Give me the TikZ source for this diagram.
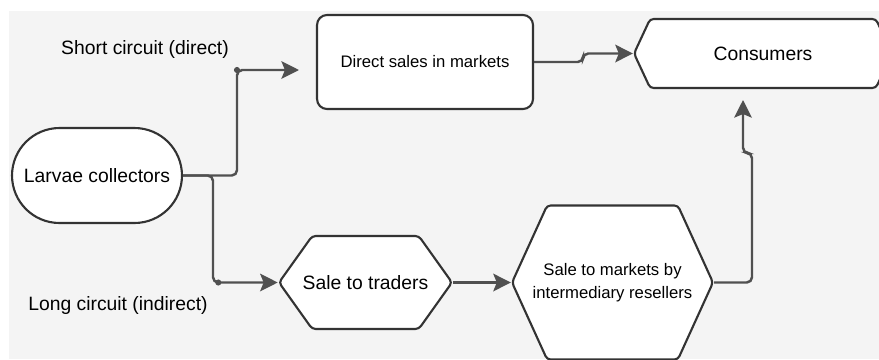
\documentclass[tikz,border=0pt]{standalone}
\usepackage{fontspec}
\setmainfont{Liberation Sans}
\usetikzlibrary{arrows.meta,shapes.symbols}
\definecolor{bggray}{HTML}{F4F4F4}
\definecolor{linegray}{HTML}{505050}
\definecolor{edgegray}{HTML}{333333}

\begin{document}
\begin{tikzpicture}[x=0.02cm, y=-0.02cm,
  box/.style={draw=edgegray, fill=white, line width=1.2pt, inner sep=0pt, align=center, font=\fontsize{11}{13}\selectfont},
  small/.style={font=\fontsize{9.5}{13}\selectfont},
  hexbox/.style={box, shape=signal, signal to=west and east, inner xsep=-0.4cm, rounded corners=2pt},
  flow/.style={draw=linegray, line width=1.4pt, rounded corners=3pt, -{Stealth[length=10pt, width=10pt, inset=2pt]}},
  label/.style={font=\fontsize{11}{13}\selectfont},
  dot/.style={circle, fill=linegray, inner sep=0pt, minimum size=3.5pt}]
  \useasboundingbox (0,0) rectangle (879,359);
  \clip (0,0) rectangle (879,359);
  \fill[bggray] (9,11) rectangle (879,359);

  % stages of the chain
  \node[box, rounded corners=0.95cm, minimum width=3.4cm, minimum height=1.9cm] (larvae) at (97,175.5) {Larvae collectors};
  \node[box, small, rounded corners=0.2cm, minimum width=4.32cm, minimum height=1.88cm] (direct) at (425,62) {Direct sales in markets};
  \node[hexbox, signal pointer angle=130, minimum width=5.16cm, minimum height=1.38cm] (consumers) at (763,53.5) {Consumers};
  \node[hexbox, signal pointer angle=109, minimum width=3.46cm, minimum height=1.86cm] (traders) at (365.5,282.5) {Sale to traders};
  \node[hexbox, small, signal pointer angle=131, minimum width=4.02cm, minimum height=3.08cm] (resellers) at (612.5,282.5) {Sale to markets by\\intermediary resellers};

  \node[label] (short) at (145,49) {Short circuit (direct)};
  \node[label] (long) at (118,305) {Long circuit (indirect)};

  % bends of the connectors
  \coordinate (upbend) at (237,70);
  \coordinate (direct-in) at (299,70);
  \coordinate (lowbend) at (213,282.5);
  \coordinate (jog) at (583,53.5);
  \coordinate (riser) at (752,153);
  \coordinate (consumers-in) at (743,100);

  \draw[flow] (larvae.east) -| (upbend) -- (direct-in);
  \draw[flow] (larvae.east) -| (lowbend) -- (traders.west);
  \draw[flow] (direct.east) -| (jog) -- (consumers.west);
  \draw[flow] (traders.east) -- (resellers.west);
  \draw[flow] (resellers.east) -| (riser) -| (consumers-in);
  \node[dot] at (upbend) {};
  \node[dot] at ([xshift=3]lowbend) {};
\end{tikzpicture}
\end{document}
